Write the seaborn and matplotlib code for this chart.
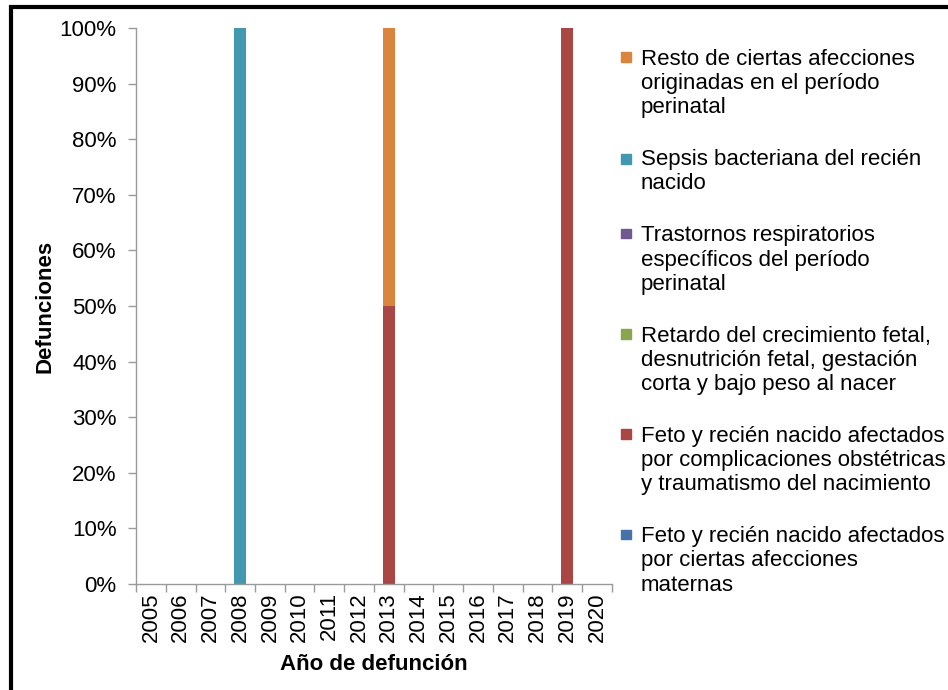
import pandas as pd
import matplotlib.pyplot as plt
import matplotlib.patches as mpatches
from matplotlib.legend_handler import HandlerPatch
import seaborn as sns

# Data (percent of deaths per year)
years = [str(y) for y in range(2005, 2021)]
causes = [
    "Feto y recién nacido afectados\npor ciertas afecciones\nmaternas",
    "Feto y recién nacido afectados\npor complicaciones obstétricas\ny traumatismo del nacimiento",
    "Retardo del crecimiento fetal,\ndesnutrición fetal, gestación\ncorta y bajo peso al nacer",
    "Trastornos respiratorios\nespecíficos del período\nperinatal",
    "Sepsis bacteriana del recién\nnacido",
    "Resto de ciertas afecciones\noriginadas en el período\nperinatal",
]
maternas = [0, 0, 0, 0, 0, 0, 0, 0, 0, 0, 0, 0, 0, 0, 0, 0]
obstetricas = [0, 0, 0, 0, 0, 0, 0, 0, 50, 0, 0, 0, 0, 0, 100, 0]
retardo = [0, 0, 0, 0, 0, 0, 0, 0, 0, 0, 0, 0, 0, 0, 0, 0]
respiratorios = [0, 0, 0, 0, 0, 0, 0, 0, 0, 0, 0, 0, 0, 0, 0, 0]
sepsis = [0, 0, 0, 100, 0, 0, 0, 0, 0, 0, 0, 0, 0, 0, 0, 0]
resto = [0, 0, 0, 0, 0, 0, 0, 0, 50, 0, 0, 0, 0, 0, 0, 0]
colors = ["#4572A7", "#AA4643", "#89A54E", "#71588F", "#4198AF", "#DB843D"]

df = pd.DataFrame({"Año": years})
series = [maternas, obstetricas, retardo, respiratorios, sepsis, resto]
for name, vals in zip(causes, series):
    df[name] = vals
cum = df[causes].cumsum(axis=1)

sns.set_style("white")
plt.rcParams['font.family'] = ['Liberation Sans', 'DejaVu Sans']
plt.rcParams['text.color'] = "black"
plt.rcParams['axes.labelcolor'] = "black"
FS = 16

fig = plt.figure(figsize=(9.48, 6.9), dpi=100)
ax = fig.add_axes([0.1435, 0.1536, 0.502, 0.8058])

# draw stacked bars from the top of the stack down
for name, clr in reversed(list(zip(causes, colors))):
    sns.barplot(x=df["Año"], y=cum[name], order=years, color=clr,
                width=0.4, saturation=1, ax=ax, edgecolor="none")

ax.set_ylim(0, 100)
ax.set_xlim(-0.5, len(years) - 0.5)
ax.set_yticks(range(0, 101, 10))
ax.set_yticklabels([f"{v}%" for v in range(0, 101, 10)], fontsize=FS)
ax.set_xticks(range(len(years)))
ax.set_xticklabels(years, rotation=90, fontsize=FS)
ax.set_xticks([i - 0.5 for i in range(len(years) + 1)], minor=True)
ax.tick_params(axis="x", which="major", length=0, pad=6, labelcolor="black")
ax.tick_params(axis="x", which="minor", length=6, color="#9a9a9a", width=1, direction="out", bottom=True)
ax.tick_params(axis="y", length=6, color="#9a9a9a", width=1, direction="out", left=True, pad=8,
               labelcolor="black")
for side in ["top", "right"]:
    ax.spines[side].set_visible(False)
for side in ["left", "bottom"]:
    ax.spines[side].set_color("#9a9a9a")
    ax.spines[side].set_linewidth(1)
ax.grid(False)

ax.set_xlabel("Año de defunción", fontsize=FS, fontweight="bold", labelpad=9)
ax.set_ylabel("Defunciones", fontsize=FS, fontweight="bold", labelpad=3)


# legend marker aligned with the first text line, as in the original
def top_square(legend, orig_handle, xdescent, ydescent, width, height, fontsize):
    n = orig_handle.get_label().count("\n") + 1
    s = 7.0
    off = (n - 1) / 2 * 1.2 * fontsize
    return mpatches.Rectangle((-xdescent, -ydescent + height / 2 - s / 2 + off), s, s)


patches = [mpatches.Patch(color=c, label=l) for l, c in zip(causes, colors)][::-1]
fig.legend(handles=patches, loc="upper left", bbox_to_anchor=(0.634, 0.958),
           frameon=False, fontsize=FS, handlelength=0.6, handleheight=0.5,
           handletextpad=0.3, labelspacing=1.39,
           handler_map={mpatches.Patch: HandlerPatch(patch_func=top_square)})

# outer frame
fig.add_artist(mpatches.Rectangle((11 / 948, -0.1), 1.2, 1.1 - 7 / 690, transform=fig.transFigure,
                                  fill=False, edgecolor="black", linewidth=3, clip_on=False))

fig.savefig("out.png", dpi=100)
